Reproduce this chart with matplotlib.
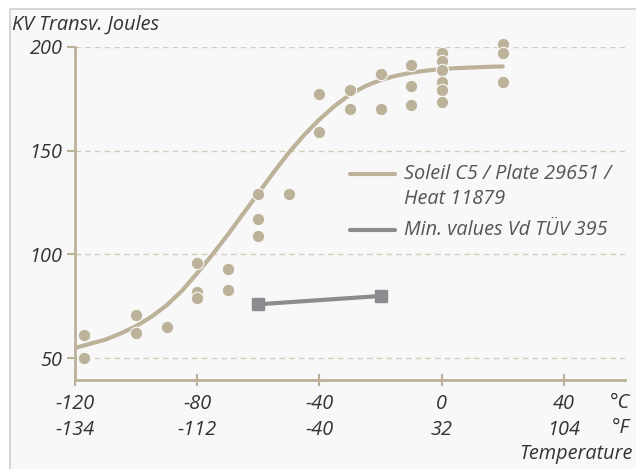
import numpy as np
import matplotlib
matplotlib.use("Agg")
import matplotlib.pyplot as plt
from matplotlib.lines import Line2D
from matplotlib.patches import Rectangle

# measured impact energy (deg C, Joules)
temp_pts = [-117, -117, -100, -100, -90, -80, -80, -80, -70, -70,
            -60, -60, -60, -50, -40, -40, -30, -30, -20, -20,
            -10, -10, -10, 0, 0, 0, 0, 0, 0, 20, 20, 20]
joule_pts = [61, 50, 71, 62, 65, 96, 82, 79, 93, 83,
             129, 117, 109, 129, 177, 159, 179, 170, 187, 170,
             191, 181, 172, 197, 193, 189, 183, 179, 173.5, 201.5, 197, 183]

# fitted transition curve
curve_t = [-120, -115, -110, -105, -100, -95, -90, -85, -80, -75, -70, -65,
           -60, -55, -50, -45, -40, -35, -30, -25, -20, -15, -10, -5,
           0, 5, 10, 15, 20]
curve_j = [55, 57, 59, 62, 65.5, 70, 75.5, 82.5, 91, 100, 109.5, 119.5,
           129.5, 139.5, 149, 157.5, 165, 171.5, 177, 181, 184, 186, 187.5, 188.5,
           189.2, 189.7, 190, 190.3, 190.5]

# minimum values
min_t = [-60, -20]
min_j = [76, 80]

c_ticks = [-120, -80, -40, 0, 40]
f_ticks = [-134, -112, -40, 32, 104]
y_ticks = [50, 100, 150, 200]

tan = "#bcb29a"
grey = "#8b8b90"
txt = "#333333"
fs = 14.3

plt.rcParams["font.family"] = ["Open Sans", "DejaVu Sans"]
plt.rcParams["font.style"] = "italic"

W, H = 636, 469
fig = plt.figure(figsize=(W / 100, H / 100), dpi=100)
fig.patch.set_facecolor("white")
fig.patches.append(Rectangle((10 / W, -0.1), 1.1, (H - 9) / H + 0.1,
                             transform=fig.transFigure, facecolor="#f8f8f8",
                             edgecolor="#cfcfcf", linewidth=1.2, zorder=-10))

ax = fig.add_axes([75 / W, (H - 380) / H, (625 - 75) / W, (380 - 46.7) / H])
ax.set_facecolor("none")
ax.set_xlim(-120, 60)
ax.set_ylim(39.55, 200)

for s in ["top", "right"]:
    ax.spines[s].set_visible(False)
for s in ["left", "bottom"]:
    ax.spines[s].set_color(tan)
    ax.spines[s].set_linewidth(2)

ax.set_yticks(y_ticks)
ax.set_yticklabels([str(v) for v in y_ticks], fontsize=fs, color=txt)
ax.set_xticks(c_ticks)
ax.set_xticklabels([f"{c}\n{f}" for c, f in zip(c_ticks, f_ticks)],
                   fontsize=fs, color=txt, linespacing=1.38)
ax.tick_params(axis="y", length=6, width=1.5, color=tan, pad=3)
ax.tick_params(axis="x", direction="inout", length=9, width=1.5, color=tan, pad=5.5)

for v in y_ticks:
    ax.axhline(v, color="#d5cdbb", lw=1, ls=(0, (4, 3)), zorder=0)

ax.plot(curve_t, curve_j, color=tan, lw=3, solid_capstyle="round", zorder=2)
ax.scatter(temp_pts, joule_pts, s=80, color=tan, edgecolor="#f8f8f8",
           linewidth=0.8, zorder=3, clip_on=False)
ax.plot(min_t, min_j, color=grey, lw=3, marker="s", markersize=9, zorder=4)

fig.text(12 / W, 1 - 25 / H, "KV Transv. Joules", fontsize=fs, color=txt,
         va="center", ha="left")
fig.text(630 / W, 1 - 403 / H, "°C", fontsize=fs, color=txt, va="center", ha="right")
fig.text(630 / W, 1 - 428 / H, "°F", fontsize=fs, color=txt, va="center", ha="right")
fig.text(633 / W, 1 - 454 / H, "Temperature", fontsize=fs, color=txt,
         va="center", ha="right")

# legend
for yy, col in [(174, tan), (230, grey)]:
    fig.add_artist(Line2D([350 / W, 395 / W], [1 - yy / H, 1 - yy / H],
                          color=col, lw=3, solid_capstyle="round"))
fig.text(404 / W, 1 - 174 / H, "Soleil C5 / Plate 29651 /", fontsize=fs,
         color="#555555", va="center")
fig.text(404 / W, 1 - 199 / H, "Heat 11879", fontsize=fs, color="#555555", va="center")
fig.text(404 / W, 1 - 230 / H, "Min. values Vd TÜV 395", fontsize=fs,
         color="#555555", va="center")

fig.savefig("out.png", dpi=100)
